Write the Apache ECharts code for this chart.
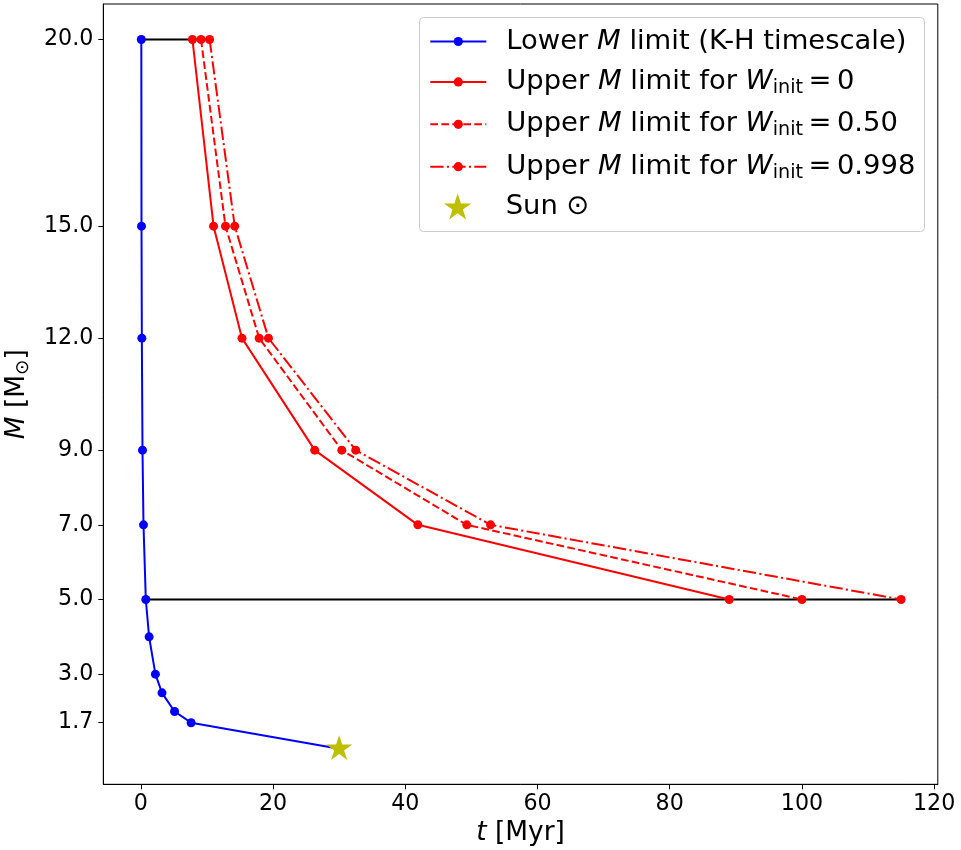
<!DOCTYPE html>
<html><head><meta charset="utf-8">
<script src="https://cdn.jsdelivr.net/npm/echarts@6/dist/echarts.min.js"></script>
<style>html,body{margin:0;padding:0;background:#fff}#c{width:961px;height:850px}</style>
</head><body><div id="c"></div>
<script>
// ---- data ----
const upperMasses = [20, 15, 12, 9, 7, 5];
const tUpperW0 = [7.8, 11.0, 15.3, 26.3, 41.9, 89.0];
const tUpperW050 = [9.1, 12.8, 17.9, 30.4, 49.3, 100.0];
const tUpperW0998 = [10.4, 14.2, 19.3, 32.5, 52.9, 115.0];
const lowerMasses = [20, 15, 12, 9, 7, 5, 4, 3, 2.5, 2, 1.7, 1];
const tLower = [0.07, 0.1, 0.15, 0.25, 0.4, 0.75, 1.25, 2.2, 3.2, 5.1, 7.6, 30];
const sunT = [30];
const sunM = [1];
const refLineMasses = [20, 5];
const xTicks = [0, 20, 40, 60, 80, 100, 120];
const yTicks = [1.7, 3.0, 5.0, 7.0, 9.0, 12.0, 15.0, 20.0];
const seriesNames = ['lower', 'w0', 'w050', 'w0998', 'sun'];
const legendTexts = {
  lower: '{g| }{n|Lower }{i|M}{n| limit (K-H timescale)}',
  w0: '{g| }{n|Upper }{i|M}{n| limit for }{i|W}{s|init}{n|\u2009=\u20090}',
  w050: '{g| }{n|Upper }{i|M}{n| limit for }{i|W}{s|init}{n|\u2009=\u20090.50}',
  w0998: '{g| }{n|Upper }{i|M}{n| limit for }{i|W}{s|init}{n|\u2009=\u20090.998}',
  sun: '{g| }{n|Sun \u2299}'
};

// ---- build ----
const FONT = 'DejaVu Sans';
const pair = (ts, ms) => ts.map((t, i) => [t, ms[i]]);
const idxOf = m => upperMasses.indexOf(m);
const refLines = refLineMasses.map(m => [[tLower[lowerMasses.indexOf(m)], m], [tUpperW0998[idxOf(m)], m]]);
const STAR = 'path://M100 0 L122.45 69.1 L195.11 69.1 L136.33 111.8 L158.78 180.9 L100 138.2 L41.22 180.9 L63.67 111.8 L4.89 69.1 L77.55 69.1 Z';
const LF = 27.4;
const legendRich = {
  g: {width: 15, fontSize: LF, lineHeight: 30},
  n: {fontFamily: FONT, fontSize: LF, lineHeight: 30, color: '#000'},
  i: {fontFamily: FONT, fontSize: LF, lineHeight: 30, fontStyle: 'italic', color: '#000'},
  s: {fontFamily: FONT, fontSize: 19.2, lineHeight: 18, padding: [12, 0, 0, 0], color: '#000'}
};
const lineSeries = (name, data, color, type, z) => ({
  name, type: 'line', data, z,
  symbol: 'circle', symbolSize: 9, showSymbol: true,
  lineStyle: {color, width: 2, type},
  itemStyle: {color, opacity: 1},
  emphasis: {disabled: true}, silent: true, animation: false
});

const chart = echarts.init(document.getElementById('c'));
chart.setOption({
  animation: false,
  textStyle: {fontFamily: FONT},
  grid: {left: 103.3, right: 23.2, top: 4, bottom: 65.7, containLabel: false, outerBoundsMode: 'none',
         show: true, borderColor: '#000', borderWidth: 1, backgroundColor: 'transparent'},
  xAxis: {
    type: 'value', min: -5.68, max: 120.55,
    name: '{i|t}{n| [Myr]}', nameLocation: 'middle', nameGap: 20,
    nameTextStyle: {rich: {
      i: {fontFamily: FONT, fontSize: 26.4, fontStyle: 'italic', color: '#000'},
      n: {fontFamily: FONT, fontSize: 26.4, color: '#000'}}},
    axisLine: {show: true, onZero: false, lineStyle: {color: '#000', width: 1}},
    axisTick: {show: true, length: 5, customValues: xTicks, lineStyle: {color: '#000', width: 1}},
    axisLabel: {customValues: xTicks, fontSize: 22.2, color: '#000', margin: 9, fontFamily: FONT, formatter: v => String(v)},
    splitLine: {show: false}
  },
  yAxis: {
    type: 'value', min: 0.05, max: 20.95,
    name: '{i|M}{n| [M}{s|\u2299}{n|]}', nameLocation: 'middle', nameGap: 65, nameRotate: 90,
    nameTextStyle: {rich: {
      i: {fontFamily: FONT, fontSize: 26.4, lineHeight: 30, fontStyle: 'italic', color: '#000'},
      n: {fontFamily: FONT, fontSize: 26.4, lineHeight: 30, color: '#000'},
      s: {fontFamily: FONT, fontSize: 18.5, lineHeight: 17.3, padding: [12.7, 0, 0, 0], color: '#000'}}},
    axisLine: {show: true, onZero: false, lineStyle: {color: '#000', width: 1}},
    axisTick: {show: true, length: 5, customValues: yTicks, lineStyle: {color: '#000', width: 1}},
    axisLabel: {customValues: yTicks, fontSize: 22.2, color: '#000', margin: 10, fontFamily: FONT, formatter: v => Number(v).toFixed(1)},
    splitLine: {show: false}
  },
  graphic: [{
    type: 'rect', z: 3, silent: true,
    shape: {x: 419.5, y: 17.5, width: 505, height: 214, r: 4},
    style: {fill: 'rgba(255,255,255,0.8)', stroke: '#cccccc', lineWidth: 1}
  }],
  legend: [{
    orient: 'vertical', left: 429.3, top: 28, padding: 0, itemGap: 11.4,
    itemWidth: 56, itemHeight: 11.5, selectedMode: false, z: 5,
    data: seriesNames.slice(0, 4), formatter: n => legendTexts[n],
    textStyle: {rich: legendRich}
  }, {
    orient: 'vertical', left: 444, top: 193, padding: 0,
    itemWidth: 56, itemHeight: 26, selectedMode: false, z: 5,
    data: [seriesNames[4]], formatter: n => legendTexts[n],
    itemStyle: {opacity: 1},
    textStyle: {rich: legendRich}
  }],
  series: [
    lineSeries(seriesNames[0], pair(tLower, lowerMasses), '#0000ff', 'solid', 2),
    ...refLines.map(d => ({type: 'line', data: d, z: 2, symbol: 'none', lineStyle: {color: '#000', width: 2}, silent: true, emphasis: {disabled: true}})),
    lineSeries(seriesNames[1], pair(tUpperW0, upperMasses), '#ff0000', 'solid', 2),
    lineSeries(seriesNames[2], pair(tUpperW050, upperMasses), '#ff0000', [7.7, 3.3], 2),
    lineSeries(seriesNames[3], pair(tUpperW0998, upperMasses), '#ff0000', [13.3, 3.3, 2.1, 3.3], 2),
    {name: seriesNames[4], type: 'scatter', data: pair(sunT, sunM), z: 3,
     symbol: STAR, symbolSize: 26, symbolKeepAspect: true, symbolOffset: [0, -1.3],
     itemStyle: {color: '#bfbf00', opacity: 1}, silent: true, emphasis: {disabled: true}}
  ]
});
</script>
</body></html>
